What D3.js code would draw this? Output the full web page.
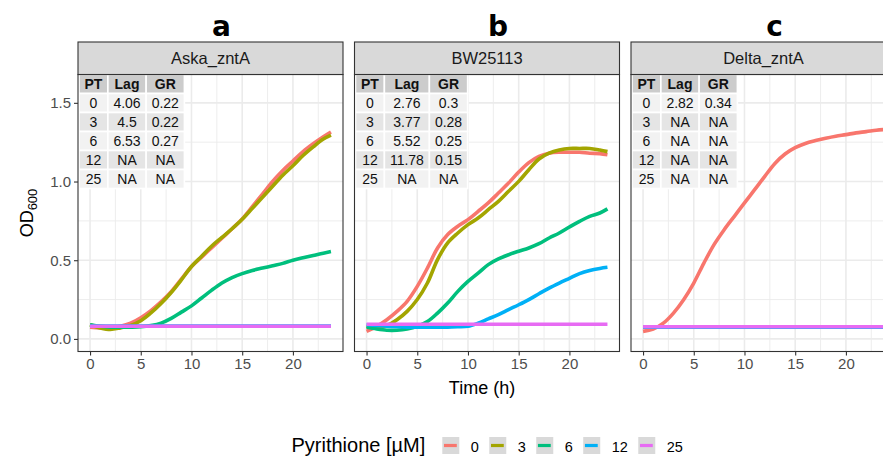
<!DOCTYPE html>
<html lang="en">
<head>
<meta charset="UTF-8">
<title>Pyrithione growth curves</title>
<script src="https://d3js.org/d3.v7.min.js"></script>
<style>
  body { margin: 0; background: #fff; }
  svg { display: block; font-family: "Liberation Sans", Arial, sans-serif; }
</style>
</head>
<body>
<svg id="chart" width="883" height="457"></svg>
<script>
// ---- data ----
const hours = [0,1,2,3,4,5,6,7,8,9,10,11,12,13,14,15,16,17,18,19,20,21,22,23,23.75];
const concentrations = ["0", "3", "6", "12", "25"];
const colors = ["#F8766D", "#A3A500", "#00BF7D", "#00B0F6", "#E76BF3"];
const strains = ["Aska_zntA", "BW25113", "Delta_zntA"];
const panelTags = ["a", "b", "c"];

const askaOD0  = [0.075,0.07,0.07,0.08,0.10,0.135,0.18,0.235,0.30,0.38,0.46,0.52,0.58,0.64,0.70,0.762,0.84,0.92,1.0,1.07,1.13,1.19,1.24,1.285,1.315];
const askaOD3  = [0.09,0.07,0.06,0.07,0.085,0.115,0.165,0.225,0.295,0.375,0.46,0.525,0.59,0.645,0.70,0.76,0.83,0.90,0.97,1.04,1.10,1.165,1.22,1.27,1.295];
const askaOD6  = [0.09,0.08,0.075,0.075,0.075,0.077,0.085,0.10,0.13,0.17,0.21,0.26,0.31,0.355,0.39,0.415,0.435,0.45,0.465,0.48,0.50,0.515,0.53,0.545,0.555];
const askaOD12 = [0.082,0.082,0.082,0.082,0.082,0.082,0.082,0.082,0.082,0.082,0.082,0.082,0.082,0.082,0.082,0.082,0.082,0.082,0.082,0.082,0.082,0.082,0.082,0.082,0.082];
const askaOD25 = [0.08,0.08,0.08,0.08,0.08,0.08,0.08,0.08,0.08,0.08,0.08,0.08,0.08,0.08,0.08,0.08,0.08,0.08,0.08,0.08,0.08,0.08,0.08,0.08,0.08];

const bwOD0  = [0.048,0.08,0.122,0.175,0.239,0.334,0.45,0.578,0.663,0.716,0.758,0.81,0.864,0.927,0.99,1.06,1.12,1.16,1.18,1.186,1.186,1.186,1.18,1.177,1.17];
const bwOD3  = [0.08,0.07,0.085,0.122,0.175,0.25,0.355,0.504,0.61,0.673,0.726,0.768,0.821,0.874,0.938,1.001,1.075,1.143,1.18,1.20,1.21,1.21,1.21,1.20,1.19];
const bwOD6  = [0.075,0.063,0.055,0.055,0.063,0.08,0.11,0.164,0.228,0.302,0.365,0.418,0.472,0.508,0.535,0.557,0.578,0.605,0.641,0.673,0.711,0.747,0.779,0.80,0.826];
const bwOD12 = [0.09,0.085,0.08,0.077,0.075,0.075,0.075,0.075,0.075,0.077,0.08,0.10,0.127,0.154,0.186,0.217,0.25,0.287,0.323,0.355,0.385,0.415,0.435,0.448,0.455];
const bwOD25 = [0.093,0.093,0.093,0.093,0.093,0.093,0.093,0.093,0.093,0.093,0.093,0.093,0.093,0.093,0.093,0.093,0.093,0.093,0.093,0.093,0.093,0.093,0.093,0.093,0.093];

const deltaOD0  = [0.048,0.063,0.10,0.164,0.249,0.355,0.482,0.599,0.694,0.779,0.864,0.948,1.033,1.115,1.175,1.215,1.242,1.26,1.275,1.288,1.298,1.309,1.317,1.326,1.33];
const deltaOD3  = [0.075,0.075,0.075,0.075,0.075,0.075,0.075,0.075,0.075,0.075,0.075,0.075,0.075,0.075,0.075,0.075,0.075,0.075,0.075,0.075,0.075,0.075,0.075,0.075,0.075];
const deltaOD6  = [0.075,0.075,0.075,0.075,0.075,0.075,0.075,0.075,0.075,0.075,0.075,0.075,0.075,0.075,0.075,0.075,0.075,0.075,0.075,0.075,0.075,0.075,0.075,0.075,0.075];
const deltaOD12 = [0.075,0.075,0.075,0.075,0.075,0.075,0.075,0.075,0.075,0.075,0.075,0.075,0.075,0.075,0.075,0.075,0.075,0.075,0.075,0.075,0.075,0.075,0.075,0.075,0.075];
const deltaOD25 = [0.077,0.077,0.077,0.077,0.077,0.077,0.077,0.077,0.077,0.077,0.077,0.077,0.077,0.077,0.077,0.077,0.077,0.077,0.077,0.077,0.077,0.077,0.077,0.077,0.077];

// lag / growth-rate tables shown in each panel
const tableHeader = ["PT", "Lag", "GR"];
const tablePT  = ["0", "3", "6", "12", "25"];
const askaLag  = ["4.06", "4.5", "6.53", "NA", "NA"];
const askaGR   = ["0.22", "0.22", "0.27", "NA", "NA"];
const bwLag    = ["2.76", "3.77", "5.52", "11.78", "NA"];
const bwGR     = ["0.3", "0.28", "0.25", "0.15", "NA"];
const deltaLag = ["2.82", "NA", "NA", "NA", "NA"];
const deltaGR  = ["0.34", "NA", "NA", "NA", "NA"];

const yTicks = [0, 0.5, 1.0, 1.5];
const xTicks = [0, 5, 10, 15, 20];

const series = [
  [askaOD0, askaOD3, askaOD6, askaOD12, askaOD25],
  [bwOD0, bwOD3, bwOD6, bwOD12, bwOD25],
  [deltaOD0, deltaOD3, deltaOD6, deltaOD12, deltaOD25]
];
const tables = [
  [tablePT, askaLag, askaGR],
  [tablePT, bwLag, bwGR],
  [tablePT, deltaLag, deltaGR]
];

// ---- layout ----
const svg = d3.select("#chart");
svg.append("rect").attr("width", 883).attr("height", 457).attr("fill", "#fff");

const panelLeft = [78, 354.5, 631];
const panelW = 265;
const stripTop = 42, plotTop = 74.5, plotBottom = 351.5;

const xExt = d3.extent(hours);
const xPad = (xExt[1] - xExt[0]) * 0.05;
const y = d3.scaleLinear().domain([-0.08, 1.68]).range([plotBottom, plotTop]);

const line = d3.line().curve(d3.curveCatmullRom);

panelLeft.forEach((left, p) => {
  const x = d3.scaleLinear().domain([xExt[0] - xPad, xExt[1] + xPad]).range([left, left + panelW]);
  const g = svg.append("g");

  const clipId = "clip" + p;
  svg.append("clipPath").attr("id", clipId)
    .append("rect").attr("x", left).attr("y", plotTop).attr("width", panelW).attr("height", plotBottom - plotTop);

  // grid
  const minorY = [0.25, 0.75, 1.25];
  const minorX = [2.5, 7.5, 12.5, 17.5, 22.5];
  g.selectAll(".minY").data(minorY).join("line")
    .attr("x1", left).attr("x2", left + panelW).attr("y1", d => y(d)).attr("y2", d => y(d))
    .attr("stroke", "#ebebeb").attr("stroke-width", 0.9);
  g.selectAll(".minX").data(minorX).join("line")
    .attr("y1", plotTop).attr("y2", plotBottom).attr("x1", d => x(d)).attr("x2", d => x(d))
    .attr("stroke", "#ebebeb").attr("stroke-width", 0.9);
  g.selectAll(".majY").data(yTicks).join("line")
    .attr("x1", left).attr("x2", left + panelW).attr("y1", d => y(d)).attr("y2", d => y(d))
    .attr("stroke", "#ebebeb").attr("stroke-width", 1.6);
  g.selectAll(".majX").data(xTicks).join("line")
    .attr("y1", plotTop).attr("y2", plotBottom).attr("x1", d => x(d)).attr("x2", d => x(d))
    .attr("stroke", "#ebebeb").attr("stroke-width", 1.6);

  // growth curves
  const lines = g.append("g").attr("clip-path", `url(#${clipId})`);
  series[p].forEach((vals, i) => {
    lines.append("path")
      .attr("d", line(hours.map((h, k) => [x(h), y(vals[k])])))
      .attr("fill", "none")
      .attr("stroke", colors[i])
      .attr("stroke-width", 3.6);
  });

  // table
  const tbl = g.append("g").attr("clip-path", `url(#${clipId})`);
  const cols = tables[p];
  const rowH = 19, pad = 11;
  const colW = cols.map((col, c) => {
    const probe = tbl.append("text").attr("font-size", 14).attr("font-weight", "bold").text(tableHeader[c]);
    let w = probe.node().getComputedTextLength();
    probe.remove();
    col.forEach(v => {
      const t = tbl.append("text").attr("font-size", 14).text(v);
      w = Math.max(w, t.node().getComputedTextLength());
      t.remove();
    });
    return w + pad;
  });
  let cx = left + 1;
  cols.forEach((col, c) => {
    const cells = [tableHeader[c]].concat(col);
    cells.forEach((v, r) => {
      const fill = r === 0 ? "#cccccc" : (r % 2 === 1 ? "#f2f2f2" : "#e5e5e5");
      const ry = plotTop + r * rowH;
      tbl.append("rect").attr("x", cx).attr("y", ry).attr("width", colW[c]).attr("height", rowH)
        .attr("fill", fill).attr("stroke", "#fff").attr("stroke-width", 1.6);
      tbl.append("text").attr("x", cx + colW[c] / 2).attr("y", ry + rowH / 2 + 5)
        .attr("text-anchor", "middle").attr("font-size", 14)
        .attr("font-weight", r === 0 ? "bold" : "normal")
        .attr("fill", "#111").text(v);
    });
    cx += colW[c];
  });

  // panel border
  g.append("rect").attr("x", left).attr("y", plotTop).attr("width", panelW).attr("height", plotBottom - plotTop)
    .attr("fill", "none").attr("stroke", "#333").attr("stroke-width", 1.1);

  // strip
  g.append("rect").attr("x", left).attr("y", stripTop).attr("width", panelW).attr("height", plotTop - stripTop)
    .attr("fill", "#d9d9d9").attr("stroke", "#333").attr("stroke-width", 1.1);
  g.append("text").attr("x", left + panelW / 2).attr("y", (stripTop + plotTop) / 2 + 5.5)
    .attr("text-anchor", "middle").attr("font-size", 16.5).attr("fill", "#1a1a1a").text(strains[p]);

  // panel tag
  g.append("text").attr("x", left + panelW / 2 + 11).attr("y", 36)
    .attr("text-anchor", "middle").attr("font-family", "DejaVu Sans").attr("font-weight", "bold")
    .attr("font-size", 28).attr("fill", "#000").text(panelTags[p]);

  // x axis
  const xAxis = d3.axisBottom(x).tickValues(xTicks).tickSize(4).tickPadding(3);
  const xa = g.append("g").attr("transform", `translate(0,${plotBottom})`).call(xAxis);
  xa.select(".domain").remove();
  xa.selectAll(".tick line").attr("stroke", "#333").attr("stroke-width", 1.1);
  xa.selectAll(".tick text").attr("font-size", 15).attr("fill", "#4d4d4d")
    .attr("font-family", "Liberation Sans, Arial, sans-serif");

  // y axis only on first panel
  if (p === 0) {
    const yAxis = d3.axisLeft(y).tickValues(yTicks).tickFormat(d3.format(".1f")).tickSize(4).tickPadding(3);
    const ya = g.append("g").attr("transform", `translate(${left},0)`).call(yAxis);
    ya.select(".domain").remove();
    ya.selectAll(".tick line").attr("stroke", "#333").attr("stroke-width", 1.1);
    ya.selectAll(".tick text").attr("font-size", 15).attr("fill", "#4d4d4d")
      .attr("font-family", "Liberation Sans, Arial, sans-serif");
  }
});

// axis titles
svg.append("text").attr("x", 482).attr("y", 394).attr("text-anchor", "middle")
  .attr("font-size", 18).attr("fill", "#000").text("Time (h)");

const yLab = svg.append("text")
  .attr("transform", `translate(33,${(plotTop + plotBottom) / 2}) rotate(-90)`)
  .attr("text-anchor", "middle").attr("font-size", 18).attr("fill", "#000");
yLab.append("tspan").text("OD");
yLab.append("tspan").attr("font-size", 13).attr("dy", 4).text("600");

// legend
const legend = svg.append("g");
legend.append("text").attr("x", 291.5).attr("y", 451.5).attr("font-size", 20).attr("fill", "#000")
  .text("Pyrithione [\u00b5M]");
let lx = 442.3;
concentrations.forEach((c, i) => {
  legend.append("rect").attr("x", lx).attr("y", 437).attr("width", 17).attr("height", 17).attr("fill", "#d9d9d9");
  legend.append("line").attr("x1", lx + 1.7).attr("x2", lx + 14.5).attr("y1", 445.5).attr("y2", 445.5)
    .attr("stroke", colors[i]).attr("stroke-width", 3.2);
  const t = legend.append("text").attr("x", lx + 28.4).attr("y", 451.5).attr("font-size", 14.5)
    .attr("fill", "#000").text(c);
  lx += 28.4 + t.node().getComputedTextLength() + 10.5;
});
</script>
</body>
</html>
